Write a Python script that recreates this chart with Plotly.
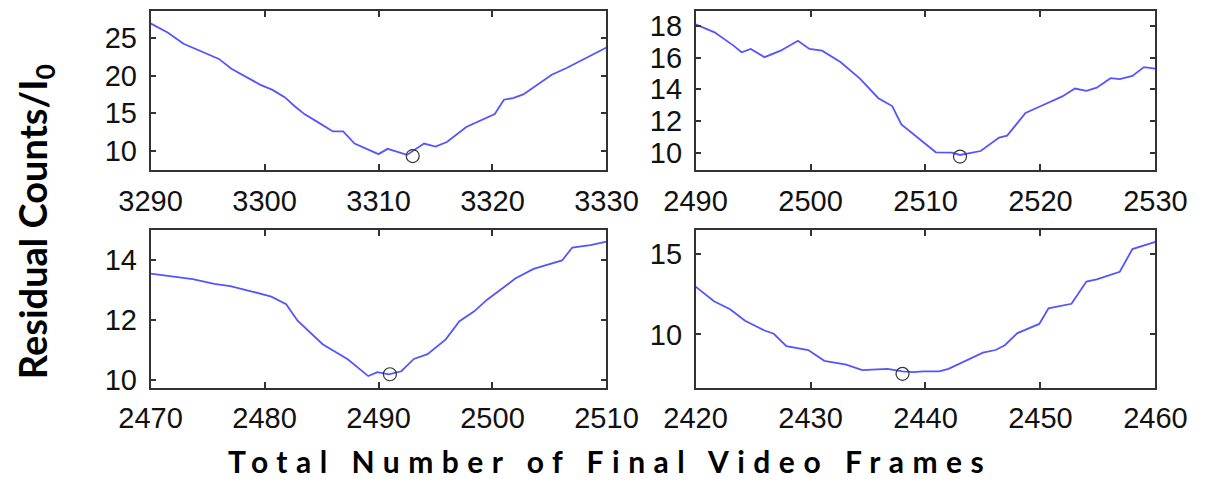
import plotly.graph_objects as go
from plotly.subplots import make_subplots

# ---- data ----
tl_x = [3290, 3291.5, 3292.9, 3294.3, 3296, 3297.1, 3297.9, 3299.6, 3300.7, 3301.8, 3302.6, 3303.5,
        3304.6, 3306, 3306.9, 3307.9, 3310, 3310.8, 3312.5, 3314, 3315, 3316, 3317.7, 3320.2,
        3321, 3321.8, 3322.7, 3325.2, 3326.5, 3330]
tl_y = [26.9, 25.7, 24.2, 23.3, 22.2, 20.9, 20.2, 18.8, 18.1, 17.1, 16.0, 14.9,
        13.9, 12.6, 12.6, 11.0, 9.6, 10.3, 9.5, 11.0, 10.6, 11.2, 13.2, 14.9,
        16.8, 17.0, 17.5, 20.1, 21.0, 23.7]
tl_min = (3313, 9.35)

tr_x = [2490, 2491.65, 2493.3, 2494, 2494.8, 2496, 2497.4, 2498.9, 2499.9, 2501, 2502.6, 2504.3,
        2505.9, 2507.1, 2507.9, 2509.8, 2510.9, 2512.3, 2513, 2514.8, 2516.4, 2517.1, 2518.7,
        2520, 2521.9, 2523, 2524, 2524.9, 2526.1, 2526.9, 2528, 2529, 2530]
tr_y = [18.1, 17.6, 16.76, 16.34, 16.55, 16.03, 16.44, 17.07, 16.55, 16.44, 15.72, 14.68,
        13.44, 12.94, 11.78, 10.64, 10.02, 10.0, 9.85, 10.1, 10.95, 11.07, 12.5,
        12.93, 13.55, 14.05, 13.9, 14.1, 14.7, 14.64, 14.85, 15.4, 15.3]
tr_min = (2513, 9.75)

bl_x = [2470, 2472.1, 2473.7, 2475.6, 2477, 2479, 2480.6, 2481.9, 2482.9, 2485.1, 2487.3, 2489.1,
        2489.9, 2490.9, 2492, 2493.1, 2494.3, 2495.9, 2497.1, 2498.4, 2499.5, 2502, 2503.6,
        2506.1, 2507, 2508.6, 2510]
bl_y = [13.54, 13.45, 13.36, 13.2, 13.13, 12.94, 12.78, 12.53, 11.98, 11.2, 10.7, 10.14,
        10.27, 10.2, 10.3, 10.71, 10.87, 11.36, 11.96, 12.29, 12.67, 13.38, 13.7,
        13.98, 14.41, 14.49, 14.61]
bl_min = (2491, 10.2)

br_x = [2420, 2421.6, 2423, 2424.3, 2426, 2426.8, 2427.9, 2429.8, 2431.2, 2433.1, 2434.5, 2436.7,
        2438, 2438.9, 2439.8, 2441.2, 2442, 2443.9, 2445, 2446.1, 2446.9, 2448, 2449.9, 2450.7,
        2452.7, 2454, 2454.9, 2456.9, 2458, 2460]
br_y = [12.97, 12.06, 11.56, 10.85, 10.24, 10.04, 9.27, 9.03, 8.36, 8.12, 7.78, 7.86,
        7.7, 7.66, 7.7, 7.7, 7.86, 8.52, 8.87, 9.03, 9.33, 10.08, 10.65, 11.62,
        11.9, 13.28, 13.42, 13.89, 15.3, 15.75]
br_min = (2438, 7.55)

panels = [
    dict(x=tl_x, y=tl_y, m=tl_min, xr=[3290, 3330], yr=[7.5, 28.5], yt=[10, 15, 20, 25], row=1, col=1),
    dict(x=tr_x, y=tr_y, m=tr_min, xr=[2490, 2530], yr=[8.9, 18.93], yt=[10, 12, 14, 16, 18], row=1, col=2),
    dict(x=bl_x, y=bl_y, m=bl_min, xr=[2470, 2510], yr=[9.76, 15.0], yt=[10, 12, 14], row=2, col=1),
    dict(x=br_x, y=br_y, m=br_min, xr=[2420, 2460], yr=[6.7, 16.5], yt=[10, 15], row=2, col=2),
]

W, H = 1231, 494
xdom = {1: [125 / W, 606 / W], 2: [700 / W, 1185 / W]}
ydom = {1: [1 - 172.5 / H, 1 - 10.5 / H], 2: [1 - 394.5 / H, 1 - 233.5 / H]}

fig = make_subplots(rows=2, cols=2)
tickfont = dict(family="Liberation Sans, Arial, sans-serif", size=29, color="#111")
axcommon = dict(showline=True, linecolor="#333", linewidth=1.5, mirror="ticks",
                ticks="inside", ticklen=6, tickwidth=1.5, tickcolor="#333",
                showgrid=False, zeroline=False, tickfont=tickfont)

for p in panels:
    fig.add_trace(go.Scatter(x=p["x"], y=p["y"], mode="lines",
                             line=dict(color="rgb(85,85,255)", width=1.8),
                             showlegend=False), row=p["row"], col=p["col"])
    fig.add_trace(go.Scatter(x=[p["m"][0]], y=[p["m"][1]], mode="markers",
                             marker=dict(symbol="circle-open", size=13, color="#333",
                                         line=dict(width=1.2, color="#333")),
                             showlegend=False), row=p["row"], col=p["col"])
    fig.update_xaxes(range=p["xr"], dtick=10, tick0=p["xr"][0], domain=xdom[p["col"]],
                     ticklabelstandoff=4, **axcommon, row=p["row"], col=p["col"])
    fig.update_yaxes(range=p["yr"], tickvals=p["yt"], domain=ydom[p["row"]],
                     ticklabelstandoff=6, **axcommon, row=p["row"], col=p["col"])

fig.add_annotation(text="Residual Counts/I<sub>0</sub>", xref="paper", yref="paper",
                   x=4 / W, y=1 - 225 / H, xanchor="center", yanchor="middle",
                   textangle=-90, showarrow=False,
                   font=dict(family="Lato, Open Sans, sans-serif", size=38, color="black", weight="bold"))
fig.add_annotation(text='<span style="letter-spacing:8.5px">Total Number of Final Video Frames</span>',
                   xref="paper", yref="paper",
                   x=610 / W, y=1 - 469 / H, xanchor="center", yanchor="middle",
                   showarrow=False,
                   font=dict(family="Lato, Open Sans, sans-serif", size=30, color="black", weight="bold"))

fig.update_layout(width=W, height=H, margin=dict(l=0, r=0, t=0, b=0),
                  paper_bgcolor="white", plot_bgcolor="white")
fig.write_html("out.html")
